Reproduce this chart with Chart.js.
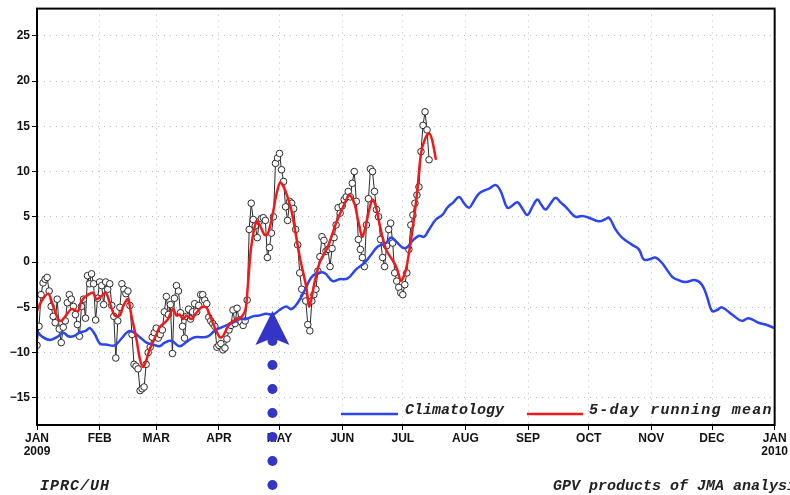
<!DOCTYPE html>
<html>
<head>
<meta charset="utf-8">
<script src="https://cdn.jsdelivr.net/npm/chart.js@4.4.0/dist/chart.umd.min.js"></script>
<style>
  html, body { margin: 0; padding: 0; background: #fff; }
  #wrap { position: relative; width: 790px; height: 495px; overflow: hidden; }
  .foot { position: absolute; top: 478px; line-height: 18px; font-family: "Liberation Mono", "DejaVu Sans Mono", monospace;
          font-style: italic; font-weight: bold; font-size: 15px; color: #222; white-space: nowrap; }
</style>
</head>
<body>
<div id="wrap">
  <canvas id="chart" width="790" height="495"></canvas>
  <div class="foot" style="left:40px; letter-spacing:1px">IPRC/UH</div>
  <div class="foot" style="left:553px">GPV products of JMA analysis</div>
</div>
<script>
// x axis: day of year (0 = 1 Jan 2009, 365 = 1 Jan 2010)
const monthDays = [0, 31, 59, 90, 120, 151, 181, 212, 243, 273, 304, 334, 365];
const monthLabels = [['JAN', '2009'], 'FEB', 'MAR', 'APR', 'MAY', 'JUN', 'JUL', 'AUG', 'SEP', 'OCT', 'NOV', 'DEC', ['JAN', '2010']];
const yTicks = [-15, -10, -5, 0, 5, 10, 15, 20, 25];

// daily values, one per day starting 1 Jan
const dailyVals = [
  -9.2, -7.1, -3.6, -2.3, -1.9, -1.7, -3.2, -4.9, -6.0, -6.7,
  -4.1, -7.4, -8.9, -7.2, -6.5, -4.5, -3.6, -4.1, -4.9, -5.8,
  -6.9, -8.2, -4.9, -4.1, -6.2, -1.5, -2.4, -1.3, -2.4, -6.4,
  -4.0, -2.2, -2.6, -4.7, -2.2, -3.0, -2.4, -4.8, -6.0, -10.6,
  -6.5, -5.0, -2.4, -3.0, -3.5, -3.2, -4.8, -8.0, -11.3, -11.5,
  -11.8, -14.2, -14.0, -13.8, -11.3, -10.0, -9.4, -8.3, -7.8, -7.3,
  -8.4, -8.0, -7.5, -5.5, -3.8, -5.8, -4.7, -10.1, -4.0, -2.6,
  -3.2, -5.6, -7.1, -8.4, -6.0, -5.2, -6.3, -5.5, -4.6, -5.5,
  -4.8, -3.6, -3.6, -4.2, -4.6, -6.1, -6.5, -6.8, -7.1, -9.4,
  -9.2, -9.0, -9.7, -9.5, -8.5, -7.5, -7.0, -5.3, -6.8, -5.1,
  -6.4, -6.6, -7.0, -6.5, -4.2, 3.6, 6.5, 4.7, 4.0, 2.7,
  4.5, 4.8, 4.9, 4.6, 0.5, 1.6, 3.2, 5.0, 10.9, 11.5,
  12.0, 10.2, 8.9, 6.1, 4.6, 6.7, 6.5, 5.9, 3.6, 1.9,
  -1.2, -3.0, -3.8, -4.3, -6.9, -7.6, -4.3, -3.6, -3.0, -1.0,
  0.6, 2.8, 2.4, 1.2, 1.4, -0.5, 1.5, 2.7, 4.1, 6.0,
  5.4, 6.2, 6.9, 7.2, 7.8, 7.2, 8.7, 10.0, 6.7, 2.5,
  1.4, 0.5, -0.5, 4.1, 7.0, 10.3, 10.0, 7.8, 5.8, 5.0,
  2.5, 0.5, -0.5, 1.8, 3.6, 4.3, 2.1, -1.2, -2.1, -2.8,
  -3.4, -3.6, -2.5, -1.2, 1.4, 4.1, 5.2, 6.5, 7.4, 8.3,
  12.2, 15.1, 16.6, 14.6, 11.3
];

// 5-day running mean
const meanDays = [0, 2.3, 5.6, 8, 10.5, 12, 14.7, 17, 20.4, 22, 25.3, 27.8, 29.4, 31.6, 34, 36, 38.5, 41, 42.6, 45,
  46.7, 49.2, 50.9, 52.5, 54.3, 55.8, 58.3, 60.7, 63.2, 64.8, 67.3, 69, 70.6, 72.3, 74, 76.4, 78.9, 81.3, 83.8, 85.4,
  87.9, 90.4, 92, 94.5, 97, 99.4, 101.5, 103.2, 104.3, 106, 108.5, 110, 112.6, 114.2, 116.7, 118.4, 120.3, 122.5, 124.5, 126,
  127.4, 130, 133.2, 134.8, 137.3, 139.8, 143.9, 148, 151.3, 154.6, 157, 159, 161.1, 164.4, 166, 167.5, 169.4, 172.7, 176.8, 178.5,
  180.1, 182.6, 185.8, 188, 190, 192, 194, 195.5, 197.4];
const meanVals = [-5.4, -4.3, -3.5, -4.9, -6.3, -6.5, -5.8, -5.2, -5.4, -4.3, -3.6, -3.4, -4.1, -3.8, -3.4, -4.5, -5.9, -5.9, -4.9, -4.1,
  -5.9, -8.5, -10.7, -11.6, -10.7, -9.6, -8.4, -7.2, -6.7, -6.3, -5.2, -5.9, -5.8, -6.3, -5.9, -6.3, -5.6, -5.0, -5.0, -5.8,
  -7.2, -8.3, -8.2, -7.1, -6.5, -6.3, -6.0, -5.2, -2.7, 1.7, 4.5, 4.2, 3.0, 3.1, 5.4, 7.4, 8.8, 8.1, 6.8, 5.6,
  3.9, 0.6, -2.7, -4.9, -2.3, -0.1, 1.7, 4.3, 6.0, 7.4, 6.5, 4.5, 2.8, 5.8, 6.9, 6.3, 4.3, 1.4, -0.1, -1.0,
  -2.1, -0.8, 3.6, 7.5, 12.0, 13.6, 14.2, 13.5, 11.3];

// climatology
const climDays = [0, 2.3, 6.4, 10.5, 13, 15.5, 18, 21, 24, 26.2, 28.7, 31.1, 34, 38.5, 41.6, 45, 47.4, 50.9, 54.2, 57.4,
  60.7, 63.2, 66.5, 70.6, 74.7, 78, 81.3, 84.6, 87.9, 90.4, 93.7, 97, 100.3, 103.5, 106.8, 110, 113.4, 116.7, 120, 123.3,
  125.8, 129, 132.3, 135.7, 139, 142.2, 146.3, 149.6, 153.7, 157.9, 162, 165.3, 168.5, 172.7, 175.2, 178, 180.9, 183, 186, 189,
  191.6, 194, 197.4, 200.6, 203, 206, 208.9, 211.3, 213.8, 216.3, 218.8, 221.2, 223.7, 227, 229.5, 232.7, 235, 237.7, 240.2, 242.6,
  245.1, 247.6, 249.6, 251.7, 254.2, 256.6, 259.1, 261.6, 264, 266.5, 269.8, 273.1, 278, 281, 283, 286.3, 289.5, 294.5, 297.8, 300.2,
  303, 306, 309.3, 314.2, 317.5, 320.8, 325.8, 329, 331.5, 334, 336.5, 338.9, 343.9, 348.8, 352.1, 357, 360.5, 365];
const climVals = [-7.6, -8.2, -8.6, -8.2, -7.8, -8.2, -8.2, -7.8, -7.6, -7.3, -8.0, -9.0, -9.1, -9.2, -8.5, -7.7, -7.7, -8.3, -8.9, -9.1,
  -9.3, -8.9, -8.7, -9.3, -8.7, -8.3, -8.3, -8.2, -7.6, -7.3, -7.0, -6.7, -6.3, -6.3, -6.0, -5.9, -5.7, -5.8, -5.3, -4.9,
  -5.2, -4.5, -3.2, -1.7, -1.2, -1.2, -2.1, -1.9, -1.8, -0.8, -0.1, 0.8, 1.7, 2.1, 2.7, 2.2, 1.6, 1.6, 2.4, 2.9,
  2.8, 3.6, 4.7, 5.2, 6.0, 6.6, 7.2, 6.5, 6.0, 6.8, 7.6, 7.9, 8.1, 8.5, 7.8, 6.0, 6.2, 6.6, 5.9, 5.2,
  6.1, 6.9, 6.3, 5.8, 6.5, 7.1, 6.6, 6.1, 5.5, 5.0, 5.1, 4.9, 4.5, 4.7, 4.9, 3.6, 2.7, 1.9, 1.4, 0.3,
  0.3, 0.5, -0.1, -1.6, -2.0, -2.2, -2.0, -2.5, -3.8, -5.4, -5.3, -5.0, -5.8, -6.5, -6.2, -6.7, -6.9, -7.3];

// annotation arrow
const arrowDay = 116.5;
const arrowTipValue = -5.4;

const blue = '#2b45f2';
const red = '#f01a1a';
const markColor = '#3434c6';

const overlay = {
  id: 'overlay',
  afterDatasetsDraw(chart) {
    const { ctx, chartArea: a } = chart;
    ctx.save();
    ctx.strokeStyle = '#000';
    ctx.lineWidth = 2;
    ctx.strokeRect(a.left, a.top, a.right - a.left, a.bottom - a.top);

    // legend inside plot
    const ly = a.bottom - 11;
    ctx.lineWidth = 2.5;
    ctx.strokeStyle = blue;
    ctx.beginPath(); ctx.moveTo(341, ly); ctx.lineTo(398, ly); ctx.stroke();
    ctx.strokeStyle = red;
    ctx.beginPath(); ctx.moveTo(527, ly); ctx.lineTo(583, ly); ctx.stroke();
    ctx.fillStyle = '#222';
    ctx.font = 'italic bold 15px "Liberation Mono", monospace';
    ctx.textBaseline = 'middle';
    ctx.fillText('Climatology', 405, ly - 4);
    if ('letterSpacing' in ctx) ctx.letterSpacing = '1.2px';
    ctx.fillText('5-day running mean', 589, ly - 4);
    ctx.restore();
  },
  afterDraw(chart) {
    const { ctx } = chart;
    const x = chart.scales.x.getPixelForValue(arrowDay);
    const tip = chart.scales.y.getPixelForValue(arrowTipValue);
    ctx.save();
    ctx.fillStyle = markColor;
    ctx.beginPath();
    ctx.moveTo(x, tip);
    ctx.lineTo(x + 17, tip + 34);
    ctx.lineTo(x, tip + 27);
    ctx.lineTo(x - 17, tip + 34);
    ctx.closePath();
    ctx.fill();
    for (let i = 0; i < 7; i++) {
      ctx.beginPath();
      ctx.arc(x, tip + 30 + i * 24, 5, 0, Math.PI * 2);
      ctx.fill();
    }
    ctx.restore();
  }
};

const tickFont = { family: '"Liberation Sans", Arial, sans-serif', size: 12, weight: 'bold', lineHeight: 1.1 };

new Chart(document.getElementById('chart'), {
  type: 'line',
  data: {
    datasets: [
      {
        label: '5-day running mean',
        data: meanDays.map((d, i) => ({ x: d, y: meanVals[i] })),
        borderColor: red, borderWidth: 2.5, pointRadius: 0, tension: 0.3
      },
      {
        label: 'Climatology',
        data: climDays.map((d, i) => ({ x: d, y: climVals[i] })),
        borderColor: blue, borderWidth: 2.5, pointRadius: 0, tension: 0.4
      },
      {
        label: 'Daily',
        data: dailyVals.map((v, i) => ({ x: i, y: v })),
        borderColor: '#2a2a2a', borderWidth: 1, tension: 0,
        pointRadius: 3.3, pointBackgroundColor: '#fff', pointBorderColor: '#2a2a2a', pointBorderWidth: 1
      }
    ]
  },
  options: {
    responsive: false,
    animation: false,
    events: [],
    layout: { padding: { top: 7, right: 14, left: 0, bottom: 0 } },
    plugins: { legend: { display: false }, tooltip: { enabled: false } },
    scales: {
      x: {
        type: 'linear', min: 0, max: 365,
        afterBuildTicks: (s) => { s.ticks = monthDays.map(v => ({ value: v })); },
        afterFit: (s) => { s.height = 70; },
        ticks: {
          autoSkip: false, maxRotation: 0, color: '#111', font: tickFont, padding: 2,
          callback: (v, i) => monthLabels[i]
        },
        grid: { color: '#b8b8b8', tickColor: '#000', tickLength: 5, lineWidth: 1 },
        border: { color: '#000', width: 2, dash: [1, 5] }
      },
      y: {
        min: -18, max: 28,
        afterBuildTicks: (s) => { s.ticks = yTicks.map(v => ({ value: v })); },
        afterFit: (s) => { s.width = 37; },
        ticks: {
          color: '#111', font: tickFont, padding: 2,
          callback: (v) => (v < 0 ? '\u2212' + Math.abs(v) : String(v))
        },
        grid: { color: '#b8b8b8', tickColor: '#000', tickLength: 5, lineWidth: 1 },
        border: { color: '#000', width: 2, dash: [1, 5] }
      }
    }
  },
  plugins: [overlay]
});
</script>
</body>
</html>
